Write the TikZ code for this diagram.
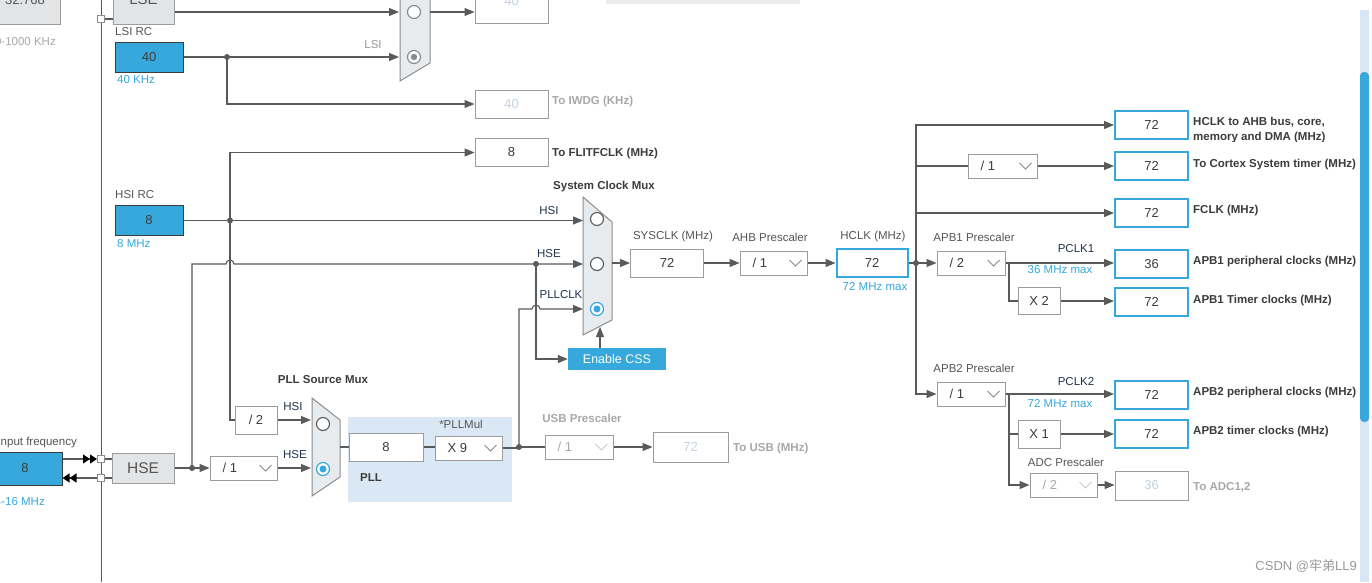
\documentclass[tikz,border=0pt]{standalone}
\usepackage{fontspec}
\setmainfont{Liberation Sans}
\newfontfamily\cjk{Noto Sans CJK SC}
\usetikzlibrary{arrows.meta,calc}
\newcommand\fs[1]{\fontsize{#1}{#1}\selectfont}
\definecolor{lnc}{HTML}{5A5A5A}
\definecolor{bxc}{HTML}{9C9C9C}
\definecolor{stblue}{HTML}{36A8DC}
\definecolor{labc}{HTML}{555555}
\definecolor{dark}{HTML}{3C3C3C}
\definecolor{navy}{HTML}{22324C}
\definecolor{faint}{HTML}{A8A8A8}
\definecolor{ghost}{HTML}{C2D2E5}
\definecolor{muxf}{HTML}{E8EBEE}
\definecolor{muxd}{HTML}{8C8C8C}
\definecolor{pllbg}{HTML}{DAE8F5}
\definecolor{hseg}{HTML}{E2E4E6}
\definecolor{track}{HTML}{D9E7F4}
\definecolor{chevc}{HTML}{7A7A7A}
\definecolor{wmc}{HTML}{9A9A9A}
\tikzset{
 wire/.style={draw=lnc, line width=1.1pt},
 arr/.style={wire, -{Triangle[length=10pt,width=8pt]}},
 dbl/.style={wire, -{Triangle[length=7pt,width=9pt,color=black]Triangle[length=7pt,width=9pt,color=black]}},
 vbox/.style={draw=bxc, line width=1pt, fill=white, inner sep=0pt, minimum width=73pt, minimum height=28pt, font=\fs{13}, text=dark},
 hbox/.style={vbox, draw=stblue, line width=2pt},
 gbox/.style={vbox, text=ghost},
 rcbox/.style={vbox, fill=stblue, draw=dark, minimum width=68pt, minimum height=30pt},
 ddn/.style={draw=bxc, line width=1pt, fill=white, inner sep=0pt, minimum height=24pt},
 smallb/.style={vbox, minimum width=42pt},
 lab/.style={font=\fs{11.5}, text=labc, inner sep=0pt},
 blab/.style={font=\bfseries\fs{11.5}, text=dark, inner sep=0pt},
 flab/.style={blab, text=faint},
 nlab/.style={lab, text=navy},
 bltext/.style={lab, text=stblue},
 mux/.style={fill=muxf, draw=muxd, line width=1pt},
 dot/.style={circle, fill=lnc, inner sep=0pt, minimum size=6pt},
 sq/.style={draw=muxd, fill=white, line width=1pt, inner sep=0pt, minimum size=7pt},
 radio/.style={circle, draw=dark!80, fill=white, line width=1.2pt, minimum size=13pt, inner sep=0pt},
 radiog/.style={radio, draw=muxd, path picture={\fill[muxd] (path picture bounding box.center) circle (3.2pt);}},
 radiob/.style={radio, draw=stblue, path picture={\fill[stblue] (path picture bounding box.center) circle (3.5pt);}},
}
% dropdown: [text colour] name, centre, width, text
\newcommand\ddbox[5][dark]{%
  \node[ddn, minimum width=#4] (#2) at (#3) {};
  \node[font=\fs{13}, text=#1, anchor=west, inner sep=0pt] (#2t) at ([xshift=13pt]#2.west) {#5};
  \draw[draw=#1!60, line width=1pt] ([xshift=-18pt,yshift=3pt]#2.east) -- ++(6pt,-6pt) -- ++(6pt,6pt);
}
\begin{document}
\begin{tikzpicture}[x=1pt,y=-1pt]
\useasboundingbox (0,0) rectangle (1372,582);
\fill[white] (0,0) rectangle (1372,582);

% ---------- left rail ----------
\coordinate (railT) at (101,0);
\coordinate (railB) at (101,582);
\draw[wire, line width=1pt] (railT) -- (railB);

% ---------- top (RTC area) ----------
\node[vbox, fill=hseg, minimum width=71pt, minimum height=34pt] (x32) at (25,7) {};
\node[font=\fs{13}, text=labc] (x32t) at (25,0) {32.768};
\node[lab, text=faint, anchor=east] (lseR) at (56,42) {0-1000 KHz};
\node[vbox, fill=hseg, minimum width=61pt, minimum height=34pt] (lse) at (143.5,7) {};
\node[font=\fs{15}, text=labc] (lset) at (143.5,-1) {LSE};
\node[sq] (sqL) at (101,19) {};
\draw[wire] (sqL.east) -- (sqL.east -| lse.west);
\fill[hseg!70] (606,-4) rectangle (800,4);

\draw[mux] (400,-30) -- (430,-15) -- (430,63) -- (400,81) -- cycle;
\node[radio, draw=muxd] (rr1) at (414,12) {};
\node[radiog] (rr2) at (414,57) {};
\coordinate (rtcin1) at (399,12);
\coordinate (rtcout) at (430,12);
\node[gbox, minimum height=33pt] (rtcbox) at (511.5,6.5) {};
\node[font=\fs{13}, text=ghost] (rtct) at (511.5,1) {40};
\draw[arr] (lse.east |- rtcin1) -- (rtcin1);
\draw[arr] (rtcout) -- (rtcout -| rtcbox.west);

\node[lab, anchor=west] (lsil) at (115,32) {LSI RC};
\node[rcbox] (lsi) at (149,57) {40};
\node[bltext, anchor=west] (lsif) at (117,80) {40 KHz};
\node[lab, text=faint!90!black] (lsiw) at (373,45) {LSI};
\node[dot] (d1) at (227,57) {};
\draw[arr] (lsi.east) -- (lsi.east -| rtcin1);
\node[gbox] (iwdg) at (511.5,104) {40};
\node[flab, anchor=west] (iwdgl) at (552,102) {To IWDG (KHz)};
\draw[arr] (d1.center) |- (iwdg.west);

% ---------- HSI ----------
\node[vbox] (flitf) at (511.5,152.5) {8};
\node[blab, anchor=west] (flitfl) at (552,154) {To FLITFCLK (MHz)};
\node[lab, anchor=west] (hsil) at (115,195) {HSI RC};
\node[rcbox] (hsi) at (149,220.5) {8};
\node[bltext, anchor=west] (hsif) at (117,244) {8 MHz};
\node[dot] (dHSI) at (230,220.5) {};

% ---------- System clock mux ----------
\node[blab] (sysml) at (604,187) {System Clock Mux};
\draw[mux] (583,197) -- (612,222) -- (612,320) -- (583,335) -- cycle;
\node[radio] (sr1) at (597,219) {};
\node[radio] (sr2) at (597,264) {};
\node[radiob] (sr3) at (597,309) {};
\coordinate (smuxL) at (583,0);
\node[nlab] (hsiw) at (549,211) {HSI};
\node[nlab] (hsew) at (549,254) {HSE};
\node[nlab] (pllw) at (561,295) {PLLCLK};
\draw[arr] (hsi.east) -- (hsi.east -| smuxL);

% ---------- HSE input ----------
\node[lab, anchor=east] (inl) at (77,443) {Input frequency};
\node[rcbox, minimum width=74pt, minimum height=33pt] (inbox) at (25,468.5) {8};
\node[bltext, anchor=east] (inr) at (45,502) {4-16 MHz};
\node[sq] (sq1) at (101,459) {};
\node[sq] (sq2) at (101,478) {};
\node[vbox, fill=hseg, minimum width=62pt, minimum height=30pt, font=\fs{15.5}, text=labc] (hse) at (143,468) {HSE};
\draw[dbl] (inbox.east |- sq1) -- (sq1.west);
\draw[dbl] (sq2.west) -- (inbox.east |- sq2);
\draw[wire] (sq1.east) -- (sq1.east -| hse.west);
\draw[wire] (sq2.east) -- (sq2.east -| hse.west);
\node[dot] (dHSEin) at (192,468) {};
\draw[wire] (hse.east) -- (dHSEin.center);
\ddbox{div1}{243.5,468}{67pt}{/ 1}
\draw[arr] (dHSEin.center) -- (div1.west);
\node[smallb] (div2) at (256,420) {/ 2};

% HSI branches
\coordinate (c230) at (230,0);
\draw[arr] (div2.west) -| (c230 |- flitf.west) -- (flitf.west);

% HSE line to system mux with jumper
\node[dot] (dHSE2) at (536,264) {};
\coordinate (hseC) at (192,264);
\coordinate (j1) at (226,264);
\draw[arr] (dHSEin.center) -- (hseC) -- (j1) arc[start angle=180,end angle=0,radius=4pt] -- (smuxL |- hseC);

% CSS
\node[fill=stblue, minimum width=98pt, minimum height=22pt, inner sep=0pt, font=\fs{12.5}, text=white] (css) at (617,359) {Enable CSS};
\draw[arr] (dHSE2.center) |- (css.west);
\coordinate (cssup) at (600,327);
\draw[arr] (cssup |- css.north) -- (cssup);

% ---------- PLL ----------
\node[blab] (pllml) at (323,380) {PLL Source Mux};
\fill[pllbg] (348,417) rectangle (512,502);
\draw[mux] (312,398) -- (340,420) -- (340,477) -- (312,496) -- cycle;
\node[radio] (pr1) at (323,424) {};
\node[radiob] (pr2) at (323,469) {};
\coordinate (pmuxL) at (311,0);
\coordinate (pmuxout) at (340,447);
\node[nlab] (phsi) at (293,407) {HSI};
\node[nlab] (phse) at (295,455) {HSE};
\draw[arr] (div2.east) -- (div2.east -| pmuxL);
\draw[arr] (div1.east) -- (div1.east -| pmuxL);
\node[vbox, minimum width=74pt] (pll8) at (386,447) {8};
\node[lab] (pllmul) at (461,424) {*PLLMul};
\ddbox{x9}{468.5,448}{67pt}{X 9}
\node[blab] (plll) at (371,478) {PLL};
\draw[wire] (pmuxout) -- (pmuxout -| pll8.west);
\draw[wire] (pll8.east) -- (pll8.east -| x9.west);
\node[dot] (dPLL) at (519,447) {};
\draw[wire] (x9.east) -- (x9.east -| dPLL.center);

% PLLCLK with jumper
\coordinate (pc1) at (519,309);
\coordinate (j2) at (532,309);
\draw[arr] (dPLL.center) -- (pc1) -- (j2) arc[start angle=180,end angle=0,radius=4pt] -- (smuxL |- pc1);

% USB
\node[flab] (usbl) at (582,418) {USB Prescaler};
\ddbox[faint]{usbdd}{579,447}{68pt}{/ 1}
\node[gbox, minimum width=75pt, minimum height=30pt] (usb) at (690.5,447) {72};
\node[flab, anchor=west] (usbt) at (733,449) {To USB (MHz)};
\draw[wire] (dPLL.center) -- (usbdd.west);
\draw[arr] (usbdd.east) -- (usb.west);

% ---------- SYSCLK / AHB / HCLK ----------
\coordinate (smuxout) at (612,263);
\node[lab] (sysl) at (673,237) {SYSCLK (MHz)};
\node[vbox] (sysclk) at (667,263) {72};
\node[lab] (ahbl) at (770,237) {AHB Prescaler};
\ddbox{ahb}{773.5,263}{67pt}{/ 1}
\node[lab] (hclkl) at (873,237) {HCLK (MHz)};
\node[hbox, minimum width=71pt] (hclk) at (872,263) {72};
\node[bltext] (hclkm) at (875,287) {72 MHz max};
\draw[arr] (smuxout) -- (smuxout -| sysclk.west);
\draw[arr] (sysclk.east) -- (ahb.west);
\draw[arr] (ahb.east) -- (hclk.west);
\node[dot] (dH) at (916,263) {};
\draw[wire] (hclk.east) -- (dH.center);

% ---------- right outputs ----------
\node[hbox] (ahbo) at (1151.5,125) {72};
\node[blab, anchor=west] (ahbol) at (1193,122) {HCLK to AHB bus, core,};
\begin{scope}
\clip (1190,128) rectangle (1372,141);
\node[blab, anchor=west] (ahbol2) at (1193,138) {memory and DMA (MHz)};
\end{scope}
\draw[arr] (dH.center) |- (ahbo.west);

\ddbox{ctdd}{1002.5,166}{69pt}{/ 1}
\node[hbox] (ct) at (1151.5,166) {72};
\node[blab, anchor=west] (ctl) at (1193,165) {To Cortex System timer (MHz)};
\draw[wire] (dH.center) |- (ctdd.west);
\draw[arr] (ctdd.east) -- (ct.west);

\node[hbox] (fclk) at (1151.5,213) {72};
\node[blab, anchor=west] (fclkl) at (1193,211) {FCLK (MHz)};
\draw[arr] (dH.center) |- (fclk.west);

% APB1
\node[lab] (apb1l) at (974,237) {APB1 Prescaler};
\ddbox{apb1}{971,263}{68pt}{/ 2}
\draw[arr] (dH.center) -- (apb1.west);
\node[hbox] (p1) at (1151.5,264) {36};
\node[nlab] (pclk1) at (1076,249) {PCLK1};
\node[bltext] (p1m) at (1060,270) {36 MHz max};
\node[blab, anchor=west] (p1l) at (1193,262) {APB1 peripheral clocks (MHz)};
\draw[arr] (apb1.east) -- (apb1.east -| p1.west);
\coordinate (b1) at (1009,263);
\node[smallb, minimum height=27pt] (x2) at (1039,301) {X 2};
\node[hbox] (t1) at (1151.5,302) {72};
\node[blab, anchor=west] (t1l) at (1193,301) {APB1 Timer clocks (MHz)};
\draw[wire] (b1) |- (x2.west);
\draw[arr] (x2.east) -- (x2.east -| t1.west);

% APB2
\node[lab] (apb2l) at (974,368) {APB2 Prescaler};
\ddbox{apb2}{971,394}{68pt}{/ 1}
\draw[arr] (dH.center) |- (apb2.west);
\node[hbox] (p2) at (1151.5,394.5) {72};
\node[nlab] (pclk2) at (1076,382) {PCLK2};
\node[bltext] (p2m) at (1060,404) {72 MHz max};
\node[blab, anchor=west] (p2l) at (1193,393) {APB2 peripheral clocks (MHz)};
\draw[arr] (apb2.east) -- (apb2.east -| p2.west);
\coordinate (b2) at (1009,394);
\node[smallb] (x1) at (1039,434) {X 1};
\node[hbox] (t2) at (1151.5,434) {72};
\node[blab, anchor=west] (t2l) at (1193,432) {APB2 timer clocks (MHz)};
\draw[wire] (b2) |- (x1.west);
\draw[arr] (x1.east) -- (x1.east -| t2.west);
\node[lab] (adcl) at (1066,462) {ADC Prescaler};
\ddbox[faint]{adcdd}{1063.5,485}{67pt}{/ 2}
\node[gbox, minimum height=29pt] (adc) at (1151.5,485.5) {36};
\node[flab, anchor=west] (adct) at (1193,487) {To ADC1,2};
\draw[arr] (b2) |- (adcdd.west);
\draw[arr] (adcdd.east) -- (adcdd.east -| adc.west);

% ---------- scrollbar & watermark ----------
\fill[track] (1360,10) rectangle (1369,582);
\fill[stblue, rounded corners=4pt] (1360,72) rectangle (1369,422);
\node[font=\fs{13}, text=wmc, anchor=east, inner sep=0pt] (wm) at (1357,566) {CSDN @{\cjk 牢弟}LL9};
\end{tikzpicture}
\end{document}
